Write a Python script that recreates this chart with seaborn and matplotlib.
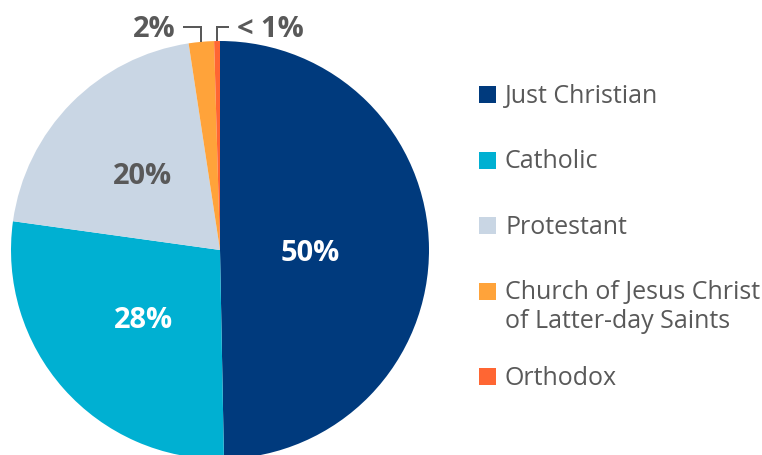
import numpy as np
import matplotlib
matplotlib.use("Agg")
import matplotlib.pyplot as plt
import matplotlib.patches as mpatches
import seaborn as sns

# ---- data ----
categories = ["Just Christian", "Catholic", "Protestant",
              "Church of Jesus Christ\nof Latter-day Saints", "Orthodox"]
shares = [49.7, 27.5, 20.4, 1.95, 0.45]
pct_labels = ["50%", "28%", "20%", "2%", "< 1%"]
colors = ["#003a7d", "#00b0d2", "#c9d6e4", "#ffa33a", "#ff6633"]

# ---- style ----
sns.set_theme(style="white")
plt.rcParams["font.family"] = ["Open Sans", "DejaVu Sans"]
GRAY = "#595959"
PX = 72 / 100  # points per pixel

W, H = 762, 455
fig = plt.figure(figsize=(W / 100, H / 100), dpi=100)
ax = fig.add_axes([0, 0, 1, 1])

cx, cy, r = 220, H - 250, 209
wedges, _ = ax.pie(shares, colors=sns.color_palette(colors), startangle=90,
                   counterclock=False, center=(cx, cy), radius=r,
                   wedgeprops=dict(linewidth=0))
ax.set_xlim(0, W)
ax.set_ylim(0, H)
ax.set_aspect("equal")
ax.axis("off")

# mid angle of each slice, clockwise from 12 o'clock
total = sum(shares)
cum = np.cumsum(shares)
mid = np.radians(360 * (cum - np.array(shares) / 2) / total)

pct_size = 29 * PX
half_digit = 10.3  # px, half height of the bold digits

# labels inside the large slices
inner_r = [0.43, 0.49, 0.52]
inner_col = ["white", "white", GRAY]
inner_dy = [-2, 0, 0]  # small vertical nudges in px
for i in range(3):
    x = cx + inner_r[i] * r * np.sin(mid[i])
    y = cy + inner_r[i] * r * np.cos(mid[i]) + inner_dy[i]
    ax.text(x, y - half_digit, pct_labels[i], ha="center", va="baseline",
            fontsize=pct_size, fontweight="bold", color=inner_col[i])

# small slices: bracket leaders above the pie
lead_y = H - 27
lead_dir = [-1, 1]
lead_len = [18, 12]
for k, i in enumerate([3, 4]):
    px_ = cx + r * np.sin(mid[i])
    py_ = cy + r * np.cos(mid[i])
    x_end = px_ + lead_dir[k] * lead_len[k]
    ax.plot([px_, px_, x_end], [py_, lead_y, lead_y], color=GRAY,
            lw=2 * PX, solid_capstyle="butt", solid_joinstyle="miter")
    ax.text(x_end + lead_dir[k] * 7.5, lead_y - half_digit, pct_labels[i],
            ha="right" if lead_dir[k] < 0 else "left", va="baseline",
            fontsize=pct_size, fontweight="bold", color=GRAY)

# legend
sq = 17
leg_x, txt_x = 479, 505
y_top, step, extra = 94.7, 65.5, 20
line_h = 29
extra_lines = 0
for i, lab in enumerate(categories):
    yc = y_top + step * i + extra * extra_lines
    ax.add_patch(mpatches.Rectangle((leg_x, H - yc - sq / 2), sq, sq,
                                    facecolor=colors[i], edgecolor="none"))
    for j, line in enumerate(lab.split("\n")):
        ax.text(txt_x, H - (yc + 8 + j * line_h), line, ha="left",
                va="baseline", fontsize=25 * PX, color=GRAY)
    extra_lines += lab.count("\n")

fig.savefig("out.png", dpi=100)
